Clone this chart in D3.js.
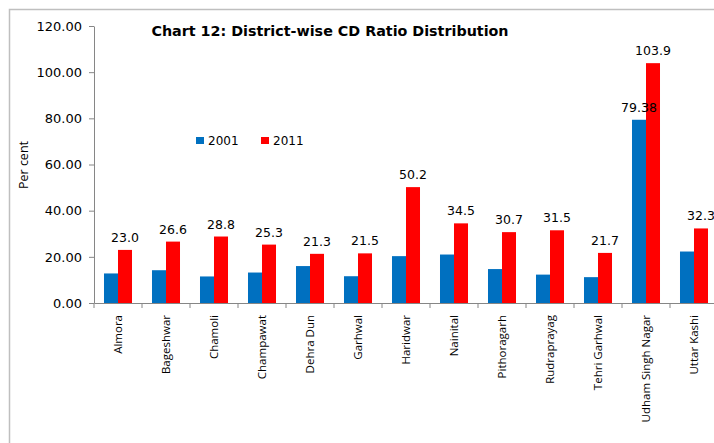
<!DOCTYPE html>
<html><head><meta charset="utf-8">
<script src="https://cdn.jsdelivr.net/npm/d3@7"></script>
<style>html,body{margin:0;padding:0;background:#fff;}svg{display:block;}</style>
</head><body>
<script>
const districts = ["Almora","Bageshwar","Chamoli","Champawat","Dehra Dun","Garhwal","Haridwar","Nainital","Pithoragarh","Rudraprayag","Tehri Garhwal","Udham Singh Nagar","Uttar Kashi"];
const series = ["2001","2011"];
const values2001 = [12.8,14.2,11.5,13.2,16.0,11.6,20.3,21.0,14.7,12.3,11.2,79.38,22.3];
const values2011 = [23.0,26.6,28.8,25.3,21.3,21.5,50.2,34.5,30.7,31.5,21.7,103.9,32.3];
const labels2011 = ["23.0","26.6","28.8","25.3","21.3","21.5","50.2","34.5","30.7","31.5","21.7","103.9","32.3"];
const labels2001 = ["","","","","","","","","","","","79.38",""];
const yTicks = [0,20,40,60,80,100,120];
const colors = ["#0070C0","#FF0000"];
const title = "Chart 12: District-wise CD Ratio Distribution";
const yLabel = "Per cent";

const W = 714, H = 443;
const svg = d3.select("body").append("svg").attr("width", W).attr("height", H);

// outer frame
svg.append("rect").attr("x", 9.5).attr("y", 9.5).attr("width", 760).attr("height", 500)
  .attr("fill", "none").attr("stroke", "#bfbfbf").attr("stroke-width", 1.5);

const x0 = 94, bandW = 48, yBottom = 303, yTop = 26;
const x = d3.scaleBand().domain(districts).range([x0, x0 + bandW * districts.length]).paddingInner(0).paddingOuter(0);
const xs = d3.scaleBand().domain(series).range([0, bandW]).paddingInner(0).paddingOuter(0.714);
const y = d3.scaleLinear().domain([0, 120]).range([yBottom, yTop]);

const font = "DejaVu Sans, Verdana, sans-serif";

// y axis
const yAxis = svg.append("g").attr("transform", `translate(${x0},0)`)
  .call(d3.axisLeft(y).tickValues(yTicks).tickFormat(d3.format(".2f")).tickSize(5).tickSizeOuter(0));
yAxis.select(".domain").attr("stroke", "#868686");
yAxis.selectAll(".tick line").attr("stroke", "#868686");
yAxis.selectAll(".tick text").attr("font-family", font).attr("font-size", "13px").attr("fill", "#000").attr("dx", "-4");

// x axis
const xAxis = svg.append("g").attr("transform", `translate(0,${yBottom})`)
  .call(d3.axisBottom(x).tickSize(0).tickSizeOuter(0));
xAxis.select(".domain").attr("stroke", "#868686");
xAxis.selectAll(".tick text")
  .attr("font-family", "Open Sans, sans-serif").attr("font-size", "11.5px").attr("fill", "#000")
  .attr("transform", "rotate(-90)").attr("text-anchor", "end")
  .attr("x", -12).attr("y", 0).attr("dy", "0.35em");
// boundary ticks between categories
svg.append("g").selectAll("line").data(districts).join("line")
  .attr("x1", d => x(d)).attr("x2", d => x(d))
  .attr("y1", yBottom).attr("y2", yBottom + 5)
  .attr("stroke", "#868686");

// bars
const data = districts.map((d, i) => ({d, vals: [values2001[i], values2011[i]], labs: [labels2001[i], labels2011[i]]}));
const groups = svg.append("g").selectAll("g").data(data).join("g")
  .attr("transform", d => `translate(${x(d.d)},0)`);
groups.selectAll("rect").data(d => d.vals.map((v, j) => ({v, s: series[j], j}))).join("rect")
  .attr("x", d => xs(d.s)).attr("width", xs.bandwidth())
  .attr("y", d => y(d.v)).attr("height", d => yBottom - y(d.v))
  .attr("fill", d => colors[d.j]);
groups.selectAll("text").data(d => d.vals.map((v, j) => ({v, s: series[j], lab: d.labs[j]})).filter(e => e.lab)).join("text")
  .attr("x", d => xs(d.s) + xs.bandwidth() / 2).attr("y", d => y(d.v) - 8)
  .attr("text-anchor", "middle").attr("font-family", font).attr("font-size", "12.5px").attr("fill", "#000")
  .text(d => d.lab);

// title
svg.append("text").attr("x", 330).attr("y", 36).attr("text-anchor", "middle")
  .attr("font-family", font).attr("font-weight", "bold").attr("font-size", "14.3px").text(title);

// y label
svg.append("text").attr("transform", "translate(28,165) rotate(-90)").attr("text-anchor", "middle")
  .attr("font-family", "Open Sans, sans-serif").attr("font-size", "12.5px").text(yLabel);

// legend
const leg = svg.append("g").selectAll("g").data(series).join("g")
  .attr("transform", (d, i) => `translate(${196 + i * 65},137)`);
leg.append("rect").attr("width", 8).attr("height", 7).attr("fill", (d, i) => colors[i]);
leg.append("text").attr("x", 12).attr("y", 7.5).attr("font-family", font).attr("font-size", "12px").text(d => d);
</script>
</body></html>
